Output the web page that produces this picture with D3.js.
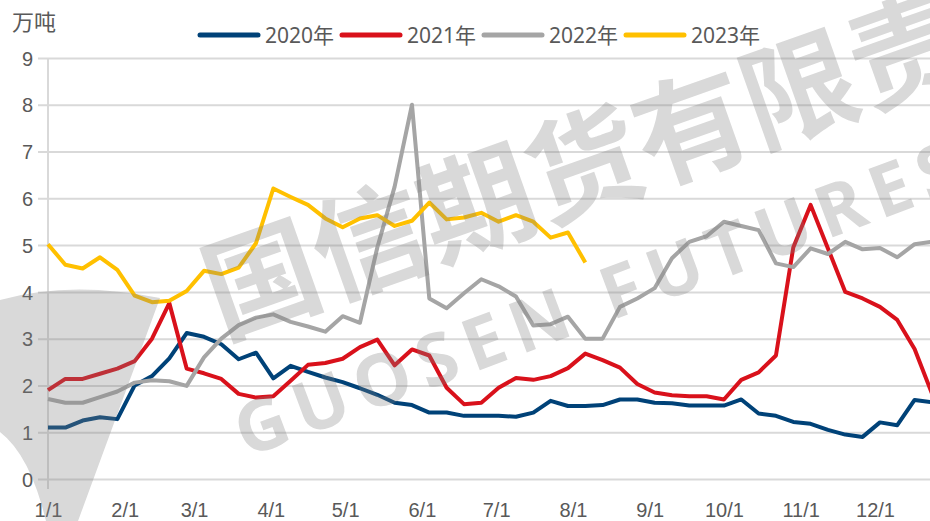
<!DOCTYPE html>
<html>
<head>
<meta charset="utf-8">
<script src="https://cdnjs.cloudflare.com/ajax/libs/d3/7.8.5/d3.min.js"></script>
<style>
  body { margin: 0; background: #fff; }
  svg { display: block; font-family: "Noto Sans", "Noto Sans CJK SC", sans-serif; }
</style>
</head>
<body>
<div id="chart"></div>
<script>
// day-of-year of each month start and the tick text
var monthDays = [0, 31, 59, 90, 120, 151, 181, 212, 243, 273, 304, 334];
var monthLabels = ["1/1", "2/1", "3/1", "4/1", "5/1", "6/1", "7/1", "8/1", "9/1", "10/1", "11/1", "12/1"];
var yTicks = [0, 1, 2, 3, 4, 5, 6, 7, 8, 9];

var seriesNames = ["2020年", "2021年", "2022年", "2023年"];
var seriesColors = ["#004278", "#d9111b", "#a5a5a5", "#ffc000"];

// weekly values, 万吨
var values2020 = [1.10, 1.10, 1.25, 1.32, 1.28, 2.00, 2.20, 2.58, 3.12, 3.04, 2.88, 2.56, 2.70, 2.15, 2.42, 2.29,
  2.17, 2.07, 1.94, 1.80, 1.63, 1.58, 1.42, 1.42, 1.35, 1.35, 1.35, 1.33, 1.42, 1.67, 1.56, 1.56,
  1.58, 1.70, 1.70, 1.63, 1.62, 1.57, 1.57, 1.57, 1.70, 1.40, 1.35, 1.22, 1.18, 1.05, 0.95, 0.90,
  1.21, 1.15, 1.69, 1.64];
var values2021 = [1.90, 2.14, 2.14, 2.25, 2.36, 2.52, 3.00, 3.76, 2.36, 2.26, 2.14, 1.82, 1.74, 1.77, 2.10, 2.44,
  2.48, 2.57, 2.82, 2.98, 2.43, 2.77, 2.64, 1.95, 1.60, 1.63, 1.95, 2.16, 2.12, 2.20, 2.37, 2.68,
  2.54, 2.38, 2.03, 1.85, 1.79, 1.77, 1.77, 1.70, 2.12, 2.28, 2.64, 4.95, 5.86, 4.93, 4.00, 3.86,
  3.68, 3.40, 2.78, 1.83];
var values2022 = [1.71, 1.63, 1.63, 1.75, 1.87, 2.06, 2.11, 2.09, 1.99, 2.60, 3.00, 3.29, 3.45, 3.52, 3.36, 3.26,
  3.15, 3.48, 3.34, 4.95, 6.25, 8.00, 3.86, 3.65, 3.97, 4.27, 4.12, 3.90, 3.28, 3.31, 3.47, 3.00,
  3.00, 3.68, 3.86, 4.08, 4.72, 5.07, 5.19, 5.50, 5.41, 5.32, 4.61, 4.53, 4.93, 4.81, 5.07, 4.91,
  4.94, 4.74, 5.02, 5.07];
var values2023 = [5.02, 4.58, 4.50, 4.74, 4.47, 3.92, 3.78, 3.81, 4.02, 4.45, 4.38, 4.52, 5.04, 6.21, 6.03, 5.86,
  5.57, 5.38, 5.57, 5.64, 5.41, 5.52, 5.91, 5.55, 5.59, 5.69, 5.50, 5.64, 5.50, 5.16, 5.27, 4.63];

var allValues = [values2020, values2021, values2022, values2023];

var width = 930, height = 521;
var margin = { top: 58, left: 48, bottom: 42 };

var svg = d3.select("#chart").append("svg")
  .attr("width", width)
  .attr("height", height);

// one year of days; the right end of the year runs past the picture edge
var x = d3.scaleLinear().domain([0, 365]).range([margin.left, margin.left + 365 * 2.476]);
var y = d3.scaleLinear().domain([0, 9]).range([height - margin.bottom, margin.top]);

// gridlines + y labels
var yAxis = d3.axisLeft(y).tickValues(yTicks).tickSizeInner(-(width - 38)).tickSizeOuter(0).tickPadding(5);
var gy = svg.append("g").attr("transform", "translate(38,0)").call(yAxis);
gy.select(".domain").remove();
gy.selectAll(".tick line").attr("stroke", "#d9d9d9").attr("stroke-width", 2);
gy.selectAll(".tick text")
  .attr("fill", "#595959")
  .style("font-size", "20px")
  .attr("dy", "0.36em");

// vertical axis line
svg.append("line")
  .attr("x1", margin.left).attr("x2", margin.left)
  .attr("y1", y(9)).attr("y2", y(0) + 10)
  .attr("stroke", "#d9d9d9").attr("stroke-width", 2);

// x labels
var xAxis = d3.axisBottom(x).tickValues(monthDays).tickSize(0).tickPadding(0)
  .tickFormat(function (d, i) { return monthLabels[i]; });
var gx = svg.append("g").attr("transform", "translate(0," + (height - 4) + ")").call(xAxis);
gx.select(".domain").remove();
gx.selectAll(".tick text")
  .attr("fill", "#595959")
  .attr("dy", 0)
  .attr("y", 0)
  .style("font-size", "20px");

// lines
var line = d3.line()
  .x(function (d, i) { return x(i * 7); })
  .y(function (d) { return y(d); });

svg.selectAll(".series")
  .data(allValues)
  .enter()
  .append("path")
  .attr("class", "series")
  .attr("d", line)
  .attr("fill", "none")
  .attr("stroke", function (d, i) { return seriesColors[i]; })
  .attr("stroke-width", 4)
  .attr("stroke-linejoin", "round");

// unit title
svg.append("text")
  .attr("x", 12).attr("y", 30)
  .attr("fill", "#595959")
  .style("font-size", "22px")
  .text("万吨");

// legend
var legendX = [200, 342, 484, 626];
var legend = svg.selectAll(".legend")
  .data(seriesNames)
  .enter()
  .append("g")
  .attr("class", "legend")
  .attr("transform", function (d, i) { return "translate(" + legendX[i] + ",35)"; });
legend.append("line")
  .attr("x1", 0).attr("x2", 58)
  .attr("stroke", function (d, i) { return seriesColors[i]; })
  .attr("stroke-width", 5)
  .attr("stroke-linecap", "round");
legend.append("text")
  .attr("x", 65).attr("y", 8)
  .attr("fill", "#595959")
  .style("font-size", "21px")
  .text(function (d) { return d; });

// watermark on top, semi transparent
var wm = svg.append("g").attr("fill", "#7f7f7f").attr("opacity", 0.3).attr("pointer-events", "none");
wm.append("path")
  .attr("d", "M0,300 Q70,280 160,298 L78,521 L46,521 Q30,455 0,432 Z");
wm.append("text")
  .attr("transform", "translate(222,338) rotate(-19.5)")
  .style("font-family", "'Noto Sans CJK SC'")
  .style("font-weight", "bold")
  .style("font-size", "114px")
  .text("国信期货有限责");
wm.append("text")
  .attr("transform", "translate(246,458) rotate(-20.6)")
  .style("font-weight", "bold")
  .style("font-size", "72px")
  .style("letter-spacing", "10px")
  .text("GUOSEN FUTURES");
</script>
</body>
</html>
